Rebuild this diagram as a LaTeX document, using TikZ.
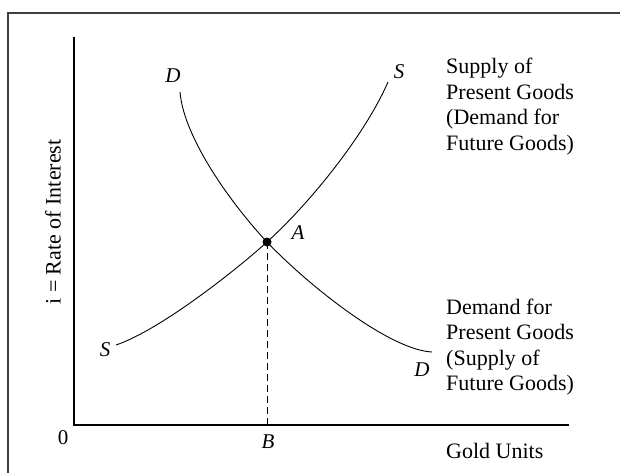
\documentclass[tikz,border=0pt]{standalone}
\usepackage{fontspec}
\setmainfont{Liberation Serif}
\begin{document}
\begin{tikzpicture}[x=1pt,y=-1pt,
  axis/.style={line width=1.2pt},
  curve/.style={line width=0.9pt},
  lbl/.style={font=\fontsize{21}{24}\selectfont\itshape, inner sep=0pt},
  num/.style={font=\fontsize{21}{24}\selectfont, inner sep=0pt},
  txt/.style={font=\fontsize{22}{25.5}\selectfont, align=left, inner sep=0pt, anchor=north west}]
\useasboundingbox (0,0) rectangle (620,472);
\draw[line width=1.6pt, black!75] (8,475) -- (8,13) -- (623,13);
% axes
\coordinate (O) at (74,425);
\coordinate (ytop) at (74,37);
\coordinate (xend) at (569,425);
\draw[axis] (ytop) -- (O) -- (xend);
% equilibrium
\node[circle, fill=black, inner sep=0pt, minimum size=9pt] (A) at (267,242) {};
\coordinate (Bx) at (267,425);
\draw[line width=0.8pt, dash pattern=on 7pt off 4pt] (A.center) -- (Bx);
% demand curve
\coordinate (D1) at (180,92);
\coordinate (D2) at (432,352);
\draw[curve] (D1) .. controls (184,140) and (235,208) .. (A.center)
  .. controls (310,287) and (390,350) .. (D2);
% supply curve
\coordinate (S1) at (116,345);
\coordinate (S2) at (388,82);
\draw[curve] (S1) .. controls (160,330) and (235,271) .. (A.center)
  .. controls (310,203) and (365,135) .. (S2);
% labels
\node[lbl] (lD1) at (173,76) {D};
\node[lbl] (lS2) at (399,72) {S};
\node[lbl] (lA) at (298,233) {A};
\node[lbl] (lS1) at (105,350) {S};
\node[lbl] (lD2) at (422,370) {D};
\node[lbl] (lB) at (268,442) {B};
\node[num] (l0) at (63,438) {0};
\node[rotate=90, font=\fontsize{22}{25}\selectfont, inner sep=0pt] (ylab) at (53,222) {i = Rate of Interest};
\node[font=\fontsize{22}{25}\selectfont, inner sep=0pt, anchor=base west] (xlab) at (446,458) {Gold Units};
\node[txt] (sup) at (446,58) {Supply of\\Present Goods\\(Demand for\\Future Goods)};
\node[txt] (dem) at (446,298.5) {Demand for\\Present Goods\\(Supply of\\Future Goods)};
\end{tikzpicture}
\end{document}
